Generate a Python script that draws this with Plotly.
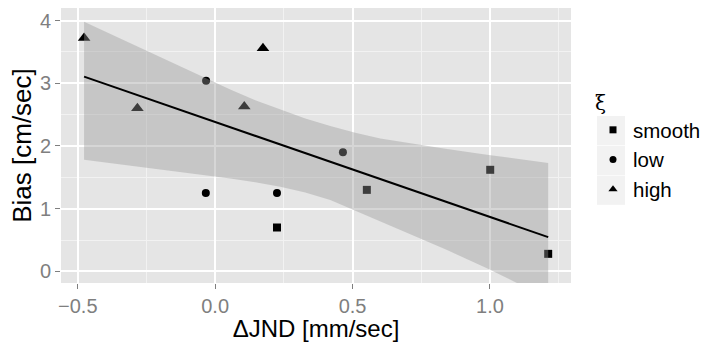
import numpy as np
import plotly.graph_objects as go

# ---- data ----
smooth_x = [0.225, 0.552, 1.001, 1.212]
smooth_y = [0.70, 1.30, 1.62, 0.28]
low_x = [-0.033, -0.034, 0.225, 0.465]
low_y = [3.04, 1.25, 1.25, 1.90]
high_x = [-0.477, -0.283, 0.106, 0.174]
high_y = [3.72, 2.60, 2.63, 3.56]

# confidence band edges
band_x = [-0.477, 0.055, 0.146, 0.237, 0.328, 0.419, 0.510, 0.601, 0.722, 0.844, 0.989, 1.099, 1.212]
band_upper = [3.98, 2.90, 2.73, 2.58, 2.44, 2.32, 2.21, 2.12, 2.03, 1.95, 1.86, 1.80, 1.73]
band_lower = [1.78, 1.48, 1.42, 1.35, 1.26, 1.14, 0.98, 0.80, 0.57, 0.34, 0.05, -0.19, -0.43]

x_ticks = [-0.5, 0.0, 0.5, 1.0]
x_tick_text = ["\u22120.5", "0.0", "0.5", "1.0"]
y_ticks = [0, 1, 2, 3, 4]
y_tick_text = ["0", "1", "2", "3", "4"]

groups = [("smooth", smooth_x, smooth_y, "square", 8),
          ("low", low_x, low_y, "circle", 8),
          ("high", high_x, high_y, "triangle-up", 11)]

all_x = np.array(smooth_x + low_x + high_x)
all_y = np.array(smooth_y + low_y + high_y)
slope, intercept = np.polyfit(all_x, all_y, 1)
fit_x = np.array([all_x.min(), all_x.max()])
fit_y = intercept + slope * fit_x

FONT = "Liberation Sans, Arial, sans-serif"
fig = go.Figure()

for name, xs, ys, sym, sz in groups:
    fig.add_trace(go.Scatter(x=xs, y=ys, mode="markers", name=name, showlegend=False,
                             marker=dict(symbol=sym, size=sz, color="black", line=dict(width=0))))

fig.add_trace(go.Scatter(x=band_x + band_x[::-1], y=band_upper + band_lower[::-1],
                         fill="toself", fillcolor="rgba(153,153,153,0.4)",
                         line=dict(width=0), mode="lines",
                         showlegend=False, hoverinfo="skip"))
fig.add_trace(go.Scatter(x=fit_x, y=fit_y, mode="lines", line=dict(color="black", width=2),
                         showlegend=False))

# legend entries
for name, xs, ys, sym, sz in groups:
    fig.add_trace(go.Scatter(x=[None], y=[None], mode="markers", name=name, legendgroup=name,
                             marker=dict(symbol=sym, size=7 if sym != "triangle-up" else 8,
                                         color="black", line=dict(width=0))))

L, R, T, B = 61, 130, 8, 59
W, H = 701, 342
pw, ph = W - L - R, H - T - B

def px2paper_x(px):
    return (px - L) / pw

def px2paper_y(py):
    return (H - B - py) / ph

shapes = []
for top, bot in [(116, 145.2), (145.8, 175.0), (175.6, 204.8)]:
    shapes.append(dict(type="rect", xref="paper", yref="paper",
                       x0=px2paper_x(597), x1=px2paper_x(625),
                       y0=px2paper_y(bot), y1=px2paper_y(top),
                       fillcolor="#F2F2F2", line=dict(width=0), layer="below"))

axis_common = dict(showline=False, zeroline=False, ticks="outside", ticklen=5, tickwidth=1,
                   tickcolor="#7F7F7F", gridcolor="white", gridwidth=2,
                   tickfont=dict(family=FONT, size=20, color="#7F7F7F"))

fig.update_layout(
    width=W, height=H,
    margin=dict(l=L, r=R, t=T, b=B, autoexpand=False),
    paper_bgcolor="white", plot_bgcolor="#E5E5E5",
    font=dict(family=FONT, color="black"),
    shapes=shapes,
    xaxis=dict(range=[-0.561, 1.295], tickvals=x_ticks, ticktext=x_tick_text,
               title=dict(text="\u0394JND [mm/sec]", font=dict(family=FONT, size=24), standoff=4),
               minor=dict(dtick=0.25, tick0=0.25, showgrid=True, gridcolor="#F2F2F2", gridwidth=1, ticks=""),
               **axis_common),
    yaxis=dict(range=[-0.185, 4.20], tickvals=y_ticks, ticktext=y_tick_text,
               title=dict(text="Bias [cm/sec]", font=dict(family=FONT, size=26), standoff=0),
               minor=dict(dtick=0.5, tick0=0.5, showgrid=True, gridcolor="#F2F2F2", gridwidth=1, ticks=""),
               **axis_common),
    legend=dict(x=px2paper_x(593), xanchor="left", y=px2paper_y(84), yanchor="top",
                bgcolor="rgba(0,0,0,0)", font=dict(family=FONT, size=20.5),
                title=dict(text="\u03be", font=dict(family="DejaVu Serif, serif", size=20)),
                tracegroupgap=0, itemsizing="trace"),
)

fig.write_html("out.html")
